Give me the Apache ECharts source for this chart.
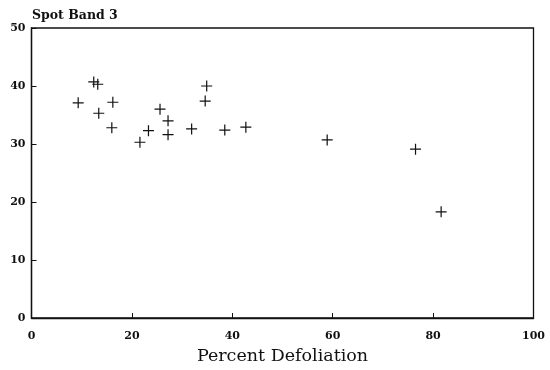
<!DOCTYPE html>
<html>
<head>
<meta charset="utf-8">
<script src="https://cdn.jsdelivr.net/npm/echarts@6/dist/echarts.min.js"></script>
<style>
  html, body { margin: 0; padding: 0; background: #fff; }
  #chart { width: 550px; height: 370px; }
</style>
</head>
<body>
<div id="chart"></div>
<script>
// defoliation (%) and spot band 3 values
var defoliation = [9.3, 12.4, 13.2, 13.4, 16.2, 16.0, 21.6, 23.3, 25.6, 27.2, 27.2, 31.9, 34.9, 34.6, 38.5, 42.7, 58.9, 76.5, 81.6];
var band3 = [37.1, 40.7, 40.3, 35.3, 37.2, 32.8, 30.3, 32.3, 36.0, 34.0, 31.6, 32.6, 40.0, 37.4, 32.4, 32.9, 30.7, 29.1, 18.3];
var xTicks = [0, 20, 40, 60, 80, 100];
var yTicks = [0, 10, 20, 30, 40, 50];

var points = [];
for (var i = 0; i < defoliation.length; i++) {
    points.push([defoliation[i], band3[i]]);
}

var serif = 'DejaVu Serif';
var plus = 'path://M0,4.45H10V5.55H0Z M4.45,0H5.55V10H4.45Z';

var myChart = echarts.init(document.getElementById('chart'));
myChart.setOption({
    animation: false,
    backgroundColor: '#fff',
    title: {
        text: 'Spot Band 3',
        left: 27,
        top: 4,
        textStyle: { fontFamily: serif, fontWeight: 'bold', fontSize: 12.5, color: '#111' }
    },
    grid: {
        left: 31.5, right: 16.5, top: 28, bottom: 52,
        show: true, borderColor: '#111', borderWidth: 1.3, backgroundColor: 'transparent'
    },
    xAxis: {
        type: 'value',
        min: xTicks[0], max: xTicks[xTicks.length - 1], interval: 20,
        name: 'Percent Defoliation',
        nameLocation: 'middle',
        nameGap: 29,
        nameTextStyle: { fontFamily: serif, fontSize: 17.5, color: '#111' },
        axisLine: { show: true, lineStyle: { color: '#111', width: 1.3 } },
        axisTick: { show: true, inside: true, length: 5, lineStyle: { color: '#111' } },
        axisLabel: { margin: 13, fontFamily: serif, fontWeight: 'bold', fontSize: 11, color: '#111' },
        splitLine: { show: false }
    },
    yAxis: {
        type: 'value',
        min: yTicks[0], max: yTicks[yTicks.length - 1], interval: 10,
        axisLine: { show: true, lineStyle: { color: '#111', width: 1.3 } },
        axisTick: { show: true, inside: true, length: 5, lineStyle: { color: '#111' } },
        axisLabel: { margin: 6, fontFamily: serif, fontWeight: 'bold', fontSize: 11, color: '#111' },
        splitLine: { show: false }
    },
    series: [{
        type: 'scatter',
        data: points,
        symbol: plus,
        symbolSize: 11,
        itemStyle: { color: '#111', opacity: 1 }
    }]
});
</script>
</body>
</html>
